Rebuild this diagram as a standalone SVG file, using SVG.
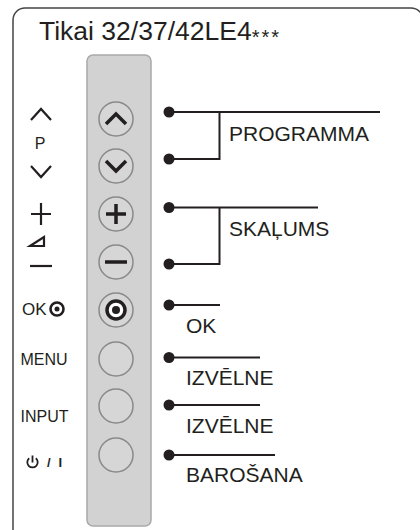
<svg xmlns="http://www.w3.org/2000/svg" width="420" height="530" viewBox="0 0 420 530">
<style>
text{font-family:"Liberation Sans",Arial,sans-serif;fill:#231f20}
.lbl{font-size:21px}
.sm{font-size:16px}
.ln{stroke:#231f20;stroke-width:2;fill:none}
.dot{fill:#231f20}
.btn{fill:#d6d6d6;stroke:#8a8a8a;stroke-width:1.5}
.ico{stroke:#231f20;stroke-width:3.5;fill:none;stroke-linecap:butt}
.sym{stroke:#231f20;stroke-width:2.2;fill:none}
</style>
<rect x="13" y="8" width="410" height="540" rx="12" fill="#fff" stroke="#444" stroke-width="1.5"/>
<text x="39" y="39.5" style="font-size:26.5px">Tikai 32/37/42LE4<tspan style="font-size:20px" dy="4" letter-spacing="2">***</tspan></text>
<g id="panel">
<rect x="87" y="55" width="64" height="471" rx="6" fill="#d2d2d2" stroke="#a9a9a9" stroke-width="1.5"/>
</g>
<g id="btn-up"><circle class="btn" cx="116" cy="119" r="17"/><polyline class="ico" points="106,124 116,114 126,124"/></g>
<g id="btn-down"><circle class="btn" cx="116" cy="166" r="17"/><polyline class="ico" points="106,161 116,171 126,161"/></g>
<g id="btn-plus"><circle class="btn" cx="116" cy="214" r="17"/><path class="ico" d="M106,214H126M116,204V224"/></g>
<g id="btn-minus"><circle class="btn" cx="116" cy="262" r="17"/><path class="ico" d="M105,262H127"/></g>
<g id="btn-ok"><circle class="btn" cx="116" cy="310" r="17"/><circle cx="116" cy="310" r="9" fill="#fff" stroke="#231f20" stroke-width="3.5"/><circle cx="116" cy="310" r="4" fill="#231f20"/></g>
<g id="btn-menu"><circle class="btn" cx="116" cy="359" r="17"/></g>
<g id="btn-input"><circle class="btn" cx="116" cy="406" r="17"/></g>
<g id="btn-power"><circle class="btn" cx="116" cy="455" r="17"/></g>
<g id="left-labels">
<polyline class="sym" points="31,120 41,109 51,120"/>
<text class="sm" x="40" y="149" text-anchor="middle">P</text>
<polyline class="sym" points="31,166 41,177 51,166"/>
<path class="sym" d="M31,214H51M41,203V225"/>
<polygon class="sym" points="30,246 44,237 44,246"/>
<path class="sym" d="M30,266H52"/>
<text x="22" y="315" style="font-size:17px">OK</text>
<circle cx="57" cy="309" r="6.5" fill="none" stroke="#231f20" stroke-width="2.6"/><circle cx="57" cy="309" r="2.5" fill="#231f20"/>
<text class="sm" x="20.5" y="365">MENU</text>
<text class="sm" x="20.5" y="422">INPUT</text>
<path fill="none" stroke="#231f20" stroke-width="1.8" d="M29.2,458.2A5.2,5.2 0 1 0 35.8,458.2M32.5,455.5V462.5"/>
<text x="47" y="467" style="font-size:13px;font-weight:bold">/</text>
<text x="58.5" y="467" style="font-size:13px;font-weight:bold">I</text>
</g>
<g id="connectors">
<path class="ln" d="M169,112H380M219.5,112V159H169"/>
<circle class="dot" cx="169" cy="112" r="5.5"/><circle class="dot" cx="169" cy="159" r="5.5"/>
<path class="ln" d="M169,207.5H318M219.5,207.5V264H169"/>
<circle class="dot" cx="169" cy="207.5" r="5.5"/><circle class="dot" cx="169" cy="264" r="5.5"/>
<path class="ln" d="M169,305H220"/><circle class="dot" cx="169" cy="305" r="5.5"/>
<path class="ln" d="M169,357.5H260"/><circle class="dot" cx="169" cy="357.5" r="5.5"/>
<path class="ln" d="M169,405H260"/><circle class="dot" cx="169" cy="405" r="5.5"/>
<path class="ln" d="M169,455H275"/><circle class="dot" cx="169" cy="455" r="5.5"/>
</g>
<g id="label-programma"><text class="lbl" x="229" y="141">PROGRAMMA</text></g>
<g id="label-skalums"><text class="lbl" x="229" y="236">SKAĻUMS</text></g>
<g id="label-ok"><text class="lbl" x="186" y="333">OK</text></g>
<g id="label-menu"><text class="lbl" x="186" y="385">IZVĒLNE</text></g>
<g id="label-input"><text class="lbl" x="186" y="432.5">IZVĒLNE</text></g>
<g id="label-power"><text class="lbl" x="186" y="482">BAROŠANA</text></g>
</svg>
